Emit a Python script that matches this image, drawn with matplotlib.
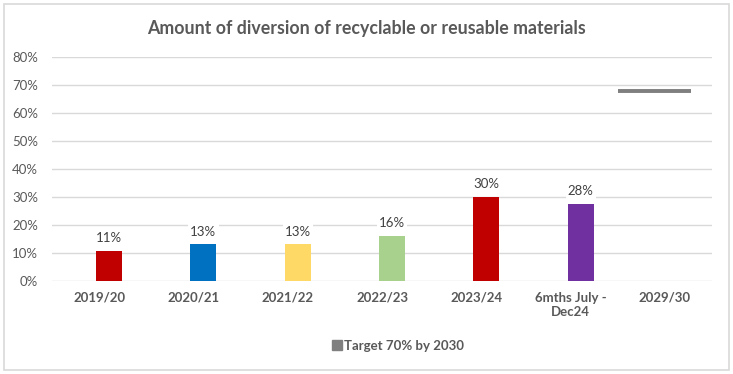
import numpy as np
import matplotlib.pyplot as plt
from matplotlib.patches import Rectangle
from matplotlib.lines import Line2D

plt.rcParams['font.family'] = ['Lato', 'DejaVu Sans']

# Data
categories = ['2019/20', '2020/21', '2021/22', '2022/23', '2023/24', '6mths July -\nDec24', '2029/30']
values = [0.108, 0.13, 0.13, 0.16, 0.30, 0.275]
value_labels = ['11%', '13%', '13%', '16%', '30%', '28%']
bar_colors = ['#C00000', '#0070C0', '#FFD966', '#A9D18E', '#C00000', '#7030A0']
target = 0.68
target_label = 'Target 70% by 2030'

fig = plt.figure(figsize=(7.33, 3.74), dpi=100)
fig.patches.append(Rectangle((0.006, 0.012), 0.988, 0.976, transform=fig.transFigure,
                             fill=False, edgecolor='#d9d9d9', linewidth=1.2))
ax = fig.add_axes([0.0709, 0.2495, 0.9005, 0.5968])

x = np.arange(len(values))
ax.bar(x + 0.106, values, width=0.275, color=bar_colors, zorder=3)
for xi, v, lab in zip(x, values, value_labels):
    ax.text(xi + 0.106, v + 0.024, lab, ha='center', va='bottom', fontsize=9.5,
            color='#404040', zorder=4,
            bbox=dict(facecolor='white', edgecolor='none', pad=1.5))

# target line in the last category
ax.hlines(target, 5.5, 6.28, color='#7F7F7F', linewidth=2.8, zorder=3)

ax.set_xlim(-0.5, 6.5)
ax.set_ylim(0, 0.8)
ax.set_yticks(np.arange(0, 0.81, 0.1))
ax.set_yticklabels([f'{int(round(t * 100))}%' for t in np.arange(0, 0.81, 0.1)])
ax.set_xticks(np.arange(len(categories)))
ax.set_xticklabels(categories, fontweight='bold')
ax.grid(axis='y', color='#d9d9d9', linewidth=1, zorder=0)
for s in ax.spines.values():
    s.set_visible(False)
ax.tick_params(axis='both', length=0, colors='#595959', labelsize=9.5)
ax.tick_params(axis='y', pad=10)
ax.tick_params(axis='x', pad=8)

fig.text(0.5, 0.925, 'Amount of diversion of recyclable or reusable materials',
         ha='center', va='center', fontsize=12.8, fontweight='bold', color='#595959')

handle = Line2D([], [], marker='s', linestyle='none', color='#7F7F7F', markersize=7)
leg = fig.legend([handle], [target_label], loc='center', bbox_to_anchor=(0.543, 0.075),
                 frameon=False, handletextpad=0.1, handlelength=0.8,
                 prop={'weight': 'bold', 'size': 9.5})
for t in leg.get_texts():
    t.set_color('#595959')

fig.savefig('out.png', dpi=100)
